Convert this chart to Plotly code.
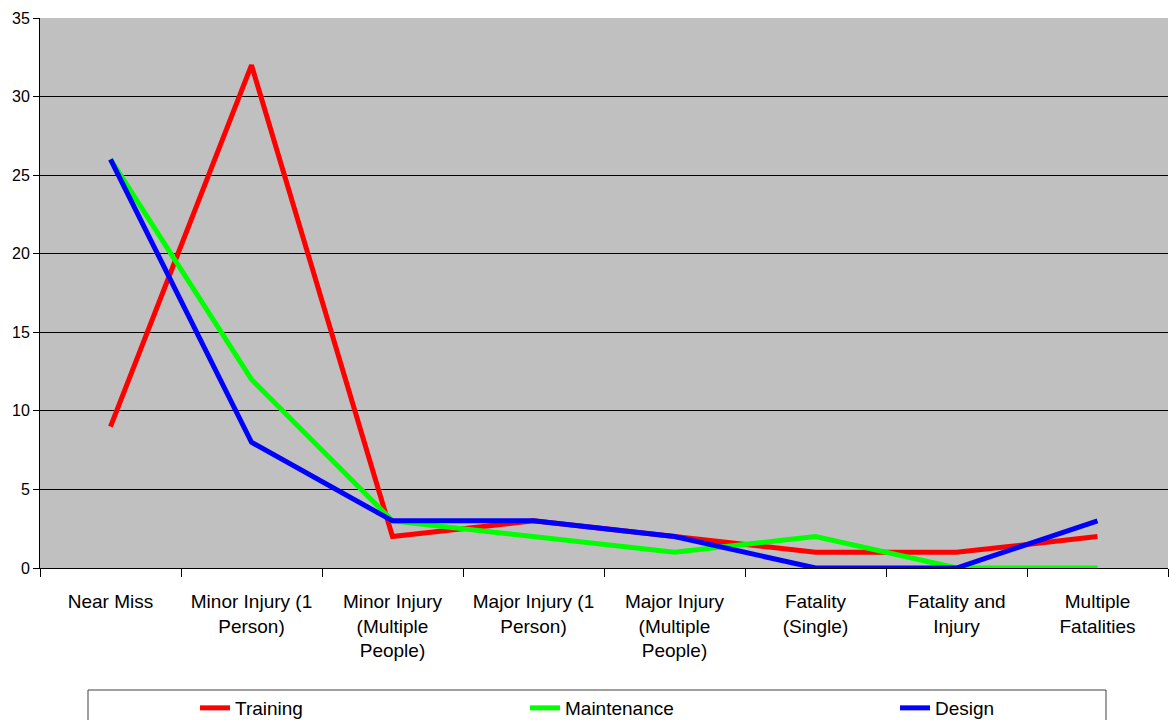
import plotly.graph_objects as go

# Incident severity categories (x axis)
categories = [
    "Near Miss",
    "Minor Injury (1<br>Person)",
    "Minor Injury<br>(Multiple<br>People)",
    "Major Injury (1<br>Person)",
    "Major Injury<br>(Multiple<br>People)",
    "Fatality<br>(Single)",
    "Fatality and<br>Injury",
    "Multiple<br>Fatalities",
]

# Counts per cause
training = [9, 32, 2, 3, 2, 1, 1, 2]
maintenance = [26, 12, 3, 2, 1, 2, 0, 0]
design = [26, 8, 3, 3, 2, 0, 0, 3]

y_ticks = [0, 5, 10, 15, 20, 25, 30, 35]

W, H = 1169, 720
ML, MR, MT, MB = 40, 1, 18, 152
PW, PH = W - ML - MR, H - MT - MB


def px_x(px):
    return (px - ML) / PW


def px_y(py):
    return (H - MB - py) / PH


FONT = "Liberation Sans, Arial, sans-serif"

series = [
    ("Training", training, "#ff0000", "legend2"),
    ("Maintenance", maintenance, "#00ff00", "legend3"),
    ("Design", design, "#0000ff", "legend4"),
]

fig = go.Figure()
for name, vals, color, leg in series:
    fig.add_trace(go.Scatter(
        x=categories, y=vals, name=name, mode="lines",
        line=dict(color=color, width=5),
        legend=leg,
    ))

legend_style = dict(
    orientation="h", yanchor="top", xanchor="left",
    bgcolor="rgba(0,0,0,0)", borderwidth=0,
    font=dict(family=FONT, size=19, color="black"),
)

fig.update_layout(
    width=W, height=H,
    margin=dict(l=ML, r=MR, t=MT, b=MB, autoexpand=False),
    paper_bgcolor="white",
    plot_bgcolor="#c0c0c0",
    font=dict(family=FONT, size=19, color="black"),
    showlegend=True,
    xaxis=dict(
        type="category",
        range=[-0.5, 7.5],
        tickson="boundaries",
        ticks="outside", ticklen=8, tickcolor="black", tickwidth=1,
        showline=True, linecolor="black", linewidth=1,
        showgrid=False,
        ticklabelstandoff=16,
        automargin=False,
        tickfont=dict(family=FONT, size=19, color="black"),
        fixedrange=True,
    ),
    yaxis=dict(
        range=[0, 35],
        tickvals=y_ticks,
        ticks="outside", ticklen=6, tickcolor="black", tickwidth=1,
        showline=True, linecolor="black", linewidth=1,
        showgrid=True, gridcolor="black", gridwidth=1,
        zeroline=False,
        automargin=False,
        tickfont=dict(family=FONT, size=16, color="black"),
        fixedrange=True,
    ),
    legend2=dict(x=px_x(195), y=px_y(689), **legend_style),
    legend3=dict(x=px_x(525), y=px_y(689), **legend_style),
    legend4=dict(x=px_x(895), y=px_y(689), **legend_style),
    shapes=[
        dict(
            type="rect", xref="paper", yref="paper",
            x0=px_x(88), x1=px_x(1106), y0=px_y(690), y1=px_y(730),
            line=dict(color="#404040", width=1), fillcolor="rgba(0,0,0,0)",
        )
    ],
)

fig.write_html("out.html")
